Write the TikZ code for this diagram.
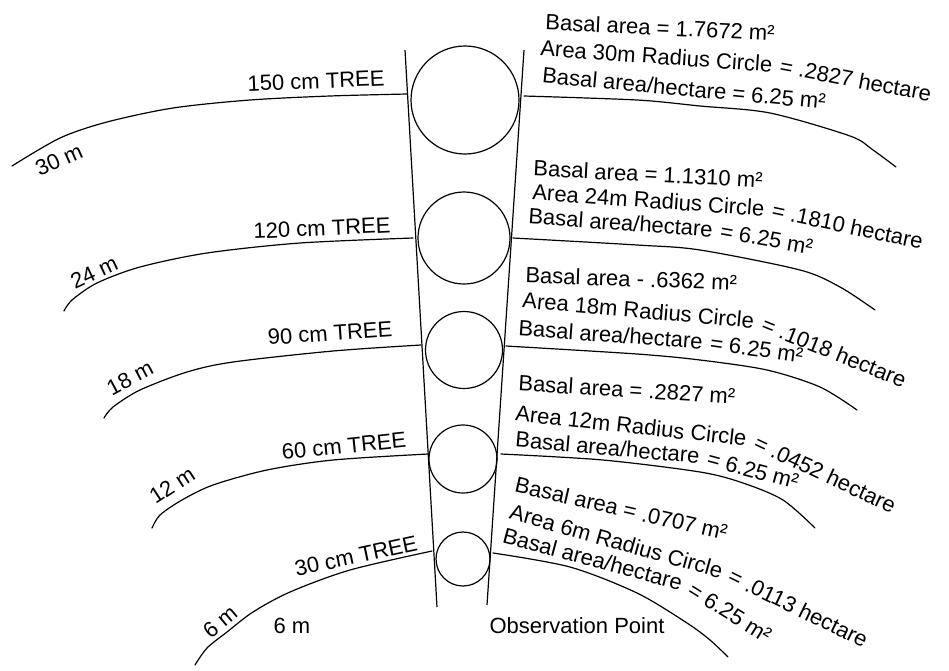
\documentclass[tikz,border=0pt]{standalone}
\usepackage{fontspec}
\setmainfont{Liberation Sans}
\usetikzlibrary{positioning}

\newcommand{\handsize}{\fontsize{22}{26}\selectfont}

\begin{document}
\begin{tikzpicture}[
  x=1pt, y=-1pt,
  line width=1.2pt,
  tree/.style={circle, draw, inner sep=0pt},
  lbl/.style={font=\handsize, inner sep=0pt},
  info/.style={font=\handsize, inner sep=0pt, anchor=west},
  tail/.style={font=\handsize, inner ysep=0pt, inner xsep=6pt, anchor=base west},
  ring/.style={line cap=round, line join=round}
]
  \useasboundingbox (0,0) rectangle (949,670);

  % sight lines
  \coordinate (lt) at (405,50);
  \coordinate (lb) at (437,607);
  \coordinate (rt) at (524,50);
  \coordinate (rb) at (487,605);
  \draw (lt) -- (lb);
  \draw (rt) -- (rb);

  % trees
  \node[tree, minimum size=108pt] (t150) at (465,100) {};
  \node[tree, minimum size=92pt] (t120) at (464,238) {};
  \node[tree, minimum size=77pt] (t90) at (464,350) {};
  \node[tree, minimum size=68pt] (t60) at (463,459) {};
  \node[tree, minimum size=54pt] (t30) at (463,559) {};

  % left arcs
  \draw[ring] plot[smooth] coordinates {(407,94) (330,96) (250,100) (173,108) (107,122) (60,138) (12,166)};
  \draw[ring] plot[smooth] coordinates {(413,238) (300,243) (207,253) (140,267) (97,283) (72,300) (64,311)};
  \draw[ring] plot[smooth] coordinates {(421,345) (333,351) (233,362) (187,372) (140,390) (113,407) (104,418)};
  \draw[ring] plot[smooth] coordinates {(428,454) (333,460) (267,470) (213,485) (182,500) (160,515) (152,528)};
  \draw[ring] plot[smooth] coordinates {(432,551) (350,570) (290,592) (253,612) (227,632) (207,648) (195,665)};

  % right arcs
  \draw[ring] plot[smooth] coordinates {(524,96) (637,100) (700,106) (770,113) (850,136) (873,150) (896,167)};
  \draw[ring] plot[smooth] coordinates {(513,238) (637,245) (700,250) (800,270) (840,287) (875,310)};
  \draw[ring] plot[smooth] coordinates {(506,346) (637,354) (700,360) (767,370) (820,387) (857,410)};
  \draw[ring] plot[smooth] coordinates {(501,454) (603,460) (700,472) (743,483) (783,500) (815,528)};
  \draw[ring] plot[smooth] coordinates {(493,553) (570,567) (637,593) (687,623) (710,640) (728,657)};

  % tree labels
  \node[lbl, rotate=2.4] (n150) at (316,81) {150 cm TREE};
  \node[lbl, rotate=2.6] (n120) at (322,228) {120 cm TREE};
  \node[lbl, rotate=4] (n90) at (330,333) {90 cm TREE};
  \node[lbl, rotate=5.8] (n60) at (344,446) {60 cm TREE};
  \node[lbl, rotate=12] (n30) at (356,556) {30 cm TREE};

  % radius labels
  \node[lbl, rotate=24] (r30) at (59,160) {30 m};
  \node[lbl, rotate=25] (r24) at (94,272) {24 m};
  \node[lbl, rotate=28] (r18) at (130,378) {18 m};
  \node[lbl, rotate=33] (r12) at (172,485) {12 m};
  \node[lbl, rotate=40] (r6) at (220,622) {6 m};
  \node[lbl] (dist) at (292,626) {6 m};
  \node[lbl] (obs) at (577,626) {Observation Point};

  % 150 cm
  \node[info, rotate=-2.7] (a150) at (545,22) {Basal area = 1.7672 m²};
  \node[info, rotate=-4] (c150) at (540,48) {Area 30m Radius Circle};
  \node[tail, rotate=-10.6] (e150) at (c150.base east) {= .2827 hectare};
  \node[info, rotate=-5.3] (h150) at (542,75) {Basal area/hectare = 6.25 m²};
  % 120 cm
  \node[info, rotate=-3] (a120) at (533,168) {Basal area = 1.1310 m²};
  \node[info, rotate=-4] (c120) at (532,192) {Area 24m Radius Circle};
  \node[tail, rotate=-12] (e120) at (c120.base east) {= .1810 hectare};
  \node[info, rotate=-4.1] (h120) at (528,216) {Basal area/hectare};
  \node[tail, rotate=-10] (g120) at (h120.base east) {= 6.25 m²};
  % 90 cm
  \node[info, rotate=-2] (a90) at (525,275) {Basal area - .6362 m²};
  \node[info, rotate=-5] (c90) at (522,300) {Area 18m Radius Circle};
  \node[tail, rotate=-22] (e90) at (c90.base east) {= .1018 hectare};
  \node[info, rotate=-4.1] (h90) at (518,328) {Basal area/hectare};
  \node[tail, rotate=-8] (g90) at (h90.base east) {= 6.25 m²};
  % 60 cm
  \node[info, rotate=-3.5] (a60) at (518,383) {Basal area = .2827 m²};
  \node[info, rotate=-6.2] (c60) at (515,413) {Area 12m Radius Circle};
  \node[tail, rotate=-25] (e60) at (c60.base east) {= .0452 hectare};
  \node[info, rotate=-5.2] (h60) at (515,439) {Basal area/hectare};
  \node[tail, rotate=-15] (g60) at (h60.base east) {= 6.25 m²};
  % 30 cm
  \node[info, rotate=-13] (a30) at (515,484) {Basal area = .0707 m²};
  \node[info, rotate=-15.8] (c30) at (510,511) {Area 6m Radius Circle};
  \node[tail, rotate=-26] (e30) at (c30.base east) {= .0113 hectare};
  \node[info, rotate=-15] (h30) at (503,535) {Basal area/hectare};
  \node[tail, rotate=-32] (g30) at (h30.base east) {= 6.25 m²};
\end{tikzpicture}
\end{document}
